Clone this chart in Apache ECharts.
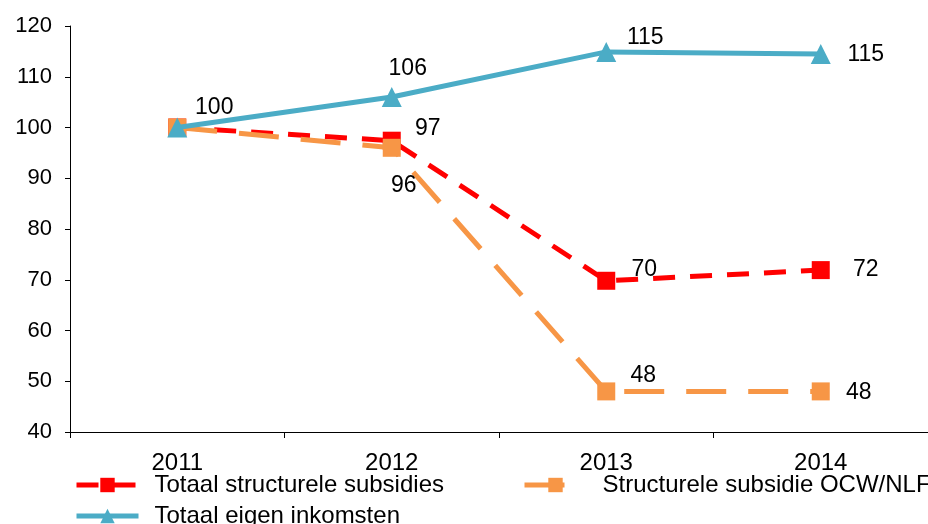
<!DOCTYPE html>
<html>
<head>
<meta charset="utf-8">
<script src="https://cdn.jsdelivr.net/npm/echarts@6/dist/echarts.min.js"></script>
<style>
  html, body { margin: 0; padding: 0; background: #fff; }
  #chart { width: 928px; height: 524px; }
</style>
</head>
<body>
<div id="chart"></div>
<script>
const years = ['2011', '2012', '2013', '2014'];
const subsidies = [100, 97.4, 69.8, 71.9];
const ocwNlf = [100, 96, 48, 48];
const eigenInkomsten = [100, 106, 114.9, 114.5];
const yTicks = { min: 40, max: 120, step: 10 };

// label offsets from the point centre, null = no label
const subsidiesLabels = [[37, -20], [36, -12], [38, -11], [45, 0]];
const ocwLabels = [null, [12, 38], [37, -16], [38, 1]];
const eigenLabels = [null, [16, -28], [39, -14], [45, 1]];

const font = 'Liberation Sans, Arial, sans-serif';

function withLabels(values, offsets) {
  return values.map((v, i) => ({
    value: v,
    label: offsets[i]
      ? { show: true, position: 'inside', offset: offsets[i] }
      : { show: false }
  }));
}

const labelStyle = {
  color: '#000',
  fontSize: 23,
  fontFamily: font,
  formatter: p => Math.round(p.value)
};

const legendText = { fontSize: 24, color: '#000', fontFamily: font, padding: [0, 0, 0, 11] };
const legendBase = {
  padding: 0, itemWidth: 62, itemHeight: 18, textStyle: legendText,
  lineStyle: { width: 5 }
};

const myChart = echarts.init(document.getElementById('chart'));
myChart.setOption({
  animation: false,
  grid: { left: 70, right: -12, top: 26, bottom: 92 },
  legend: [
    Object.assign({ data: ['Totaal structurele subsidies'], left: 74, top: 473 }, legendBase),
    Object.assign({ data: ['Structurele subsidie OCW/NLF'], left: 522, top: 473 }, legendBase),
    Object.assign({ data: ['Totaal eigen inkomsten'], left: 74, top: 504 }, legendBase)
  ],
  xAxis: {
    type: 'category',
    data: years,
    boundaryGap: true,
    axisLine: { lineStyle: { color: '#000', width: 1 } },
    axisTick: { show: true, length: 6, lineStyle: { color: '#000' } },
    axisLabel: { fontSize: 24, color: '#000', fontFamily: font, margin: 19 }
  },
  yAxis: {
    type: 'value',
    min: yTicks.min,
    max: yTicks.max,
    interval: yTicks.step,
    splitLine: { show: false },
    axisLine: { show: true, lineStyle: { color: '#000', width: 1 } },
    axisTick: { show: true, length: 5, lineStyle: { color: '#000' } },
    axisLabel: { fontSize: 22, color: '#000', fontFamily: font, margin: 18 }
  },
  series: [
    {
      name: 'Totaal structurele subsidies',
      type: 'line',
      data: withLabels(subsidies, subsidiesLabels),
      symbol: 'rect',
      symbolSize: 18,
      itemStyle: { color: '#FF0000' },
      lineStyle: { color: '#FF0000', width: 5, type: [22, 15] },
      label: labelStyle,
      z: 2
    },
    {
      name: 'Structurele subsidie OCW/NLF',
      type: 'line',
      data: withLabels(ocwNlf, ocwLabels),
      symbol: 'rect',
      symbolSize: 18,
      itemStyle: { color: '#F79646' },
      lineStyle: { color: '#F79646', width: 5, type: [40, 22] },
      label: labelStyle,
      z: 3
    },
    {
      name: 'Totaal eigen inkomsten',
      type: 'line',
      data: withLabels(eigenInkomsten, eigenLabels),
      symbol: 'triangle',
      symbolSize: 20,
      itemStyle: { color: '#4BACC6' },
      lineStyle: { color: '#4BACC6', width: 5 },
      label: labelStyle,
      z: 4
    }
  ]
});
window.onresize = () => {
  myChart.resize();
};
</script>
</body>
</html>
